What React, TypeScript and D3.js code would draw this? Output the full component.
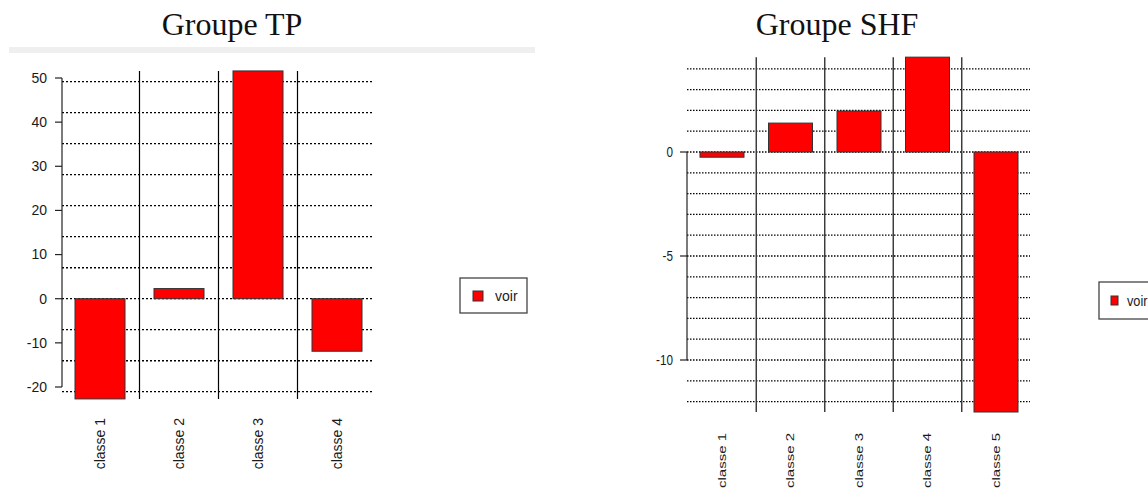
import React from "react";
import * as d3 from "d3";

// ---- data ----
const classesTP = ["classe 1", "classe 2", "classe 3", "classe 4"];
const valuesTP = [-22.7, 2.3, 51.6, -11.9];
const ticksTP = [-20, -10, 0, 10, 20, 30, 40, 50];
const gridTP = [-21.07, -14.05, -7.02, 0, 7.02, 14.05, 21.07, 28.1, 35.12, 42.14, 49.16];

const classesSHF = ["classe 1", "classe 2", "classe 3", "classe 4", "classe 5"];
const valuesSHF = [-0.25, 1.39, 1.97, 4.56, -12.5];
const ticksSHF = [-10, -5, 0];
const gridSHF = [-12, -11, -10, -9, -8, -7, -6, -5, -4, -3, -2, -1, 0, 1, 2, 3, 4];

const legendLabel = "voir";
const titles = ["Groupe TP", "Groupe SHF"];

const SANS = "'Liberation Sans', Arial, sans-serif";
const SERIF = "'Liberation Serif', 'Times New Roman', serif";
const RED = "#ff0000";

export default function App() {
  // ---------- TP chart ----------
  const pTP = 29 / 79;
  const xTP = d3.scaleBand<string>().domain(classesTP).range([60.5, 376.5])
    .paddingInner(pTP).paddingOuter(pTP / 2);
  const yTP = d3.scaleLinear().domain([-20, 50]).range([387, 78]);
  const stepTP = xTP.step();
  const maxTP = d3.max(valuesTP)!;
  const minTP = d3.min(valuesTP)!;

  // ---------- SHF chart ----------
  const pSHF = 24.5 / 68.5;
  const xSHF = d3.scaleBand<string>().domain(classesSHF).range([687.75, 1030.25])
    .paddingInner(pSHF).paddingOuter(pSHF / 2);
  const ySHF = d3.scaleLinear().domain([-10, 0]).range([360, 152]);
  const stepSHF = xSHF.step();
  const maxSHF = d3.max(valuesSHF)!;
  const minSHF = d3.min(valuesSHF)!;
  const SX = 0.78;

  return (
    <svg width={1148} height={488} style={{ position: "absolute", left: 0, top: 0, background: "#fff" }}>
      {/* titles */}
      <text x={232} y={35} textAnchor="middle" fontFamily={SERIF} fontSize={32} fill="#111">{titles[0]}</text>
      <text x={837} y={35} textAnchor="middle" fontFamily={SERIF} fontSize={32} fill="#111">{titles[1]}</text>
      <rect x={9} y={47} width={526} height={6} fill="#efefef" />

      {/* ===== TP ===== */}
      <g>
        {gridTP.map((g, i) => (
          <line key={i} x1={62} x2={372} y1={yTP(g)} y2={yTP(g)} stroke="#000" strokeWidth={1.3} strokeDasharray="2,2" />
        ))}
        {classesTP.slice(1).map((c) => {
          const xx = xTP(c)! - (stepTP - xTP.bandwidth()) / 2;
          return <line key={c} x1={xx} x2={xx} y1={yTP(maxTP)} y2={yTP(minTP)} stroke="#000" strokeWidth={1.2} />;
        })}
        {classesTP.map((c, i) => (
          <rect key={c} x={xTP(c)!} width={xTP.bandwidth()}
            y={yTP(Math.max(0, valuesTP[i]))} height={Math.abs(yTP(valuesTP[i]) - yTP(0))}
            fill={RED} stroke="#333" strokeWidth={1} />
        ))}
        {/* y axis */}
        <line x1={62} x2={62} y1={yTP(d3.max(ticksTP)!)} y2={yTP(d3.min(ticksTP)!)} stroke="#222" strokeWidth={1.2} />
        {ticksTP.map((t) => (
          <g key={t}>
            <line x1={55} x2={62} y1={yTP(t)} y2={yTP(t)} stroke="#222" strokeWidth={1.2} />
            <text x={47} y={yTP(t)} dy="0.35em" textAnchor="end" fontFamily={SANS} fontSize={14} fill="#1a1a1a">{t}</text>
          </g>
        ))}
        {classesTP.map((c) => (
          <text key={c} transform={`translate(${xTP(c)! + xTP.bandwidth() / 2},418) rotate(-90)`}
            dy="0.35em" textAnchor="end" fontFamily={SANS} fontSize={14} fill="#1a1a1a">{c}</text>
        ))}
        {/* legend */}
        <rect x={460} y={278} width={67} height={35} fill="#fff" stroke="#444" strokeWidth={1.3} />
        <rect x={473} y={291} width={10} height={10} fill={RED} stroke="#333" strokeWidth={1} />
        <text x={495} y={296} dy="0.35em" fontFamily={SANS} fontSize={14} fill="#1a1a1a">{legendLabel}</text>
      </g>

      {/* ===== SHF ===== */}
      <g>
        {gridSHF.map((g, i) => (
          <line key={i} x1={687} x2={1030} y1={ySHF(g)} y2={ySHF(g)} stroke="#000" strokeWidth={1.3} strokeDasharray="1.5,1.5" />
        ))}
        {classesSHF.slice(1).map((c) => {
          const xx = xSHF(c)! - (stepSHF - xSHF.bandwidth()) / 2;
          return <line key={c} x1={xx} x2={xx} y1={ySHF(maxSHF)} y2={ySHF(minSHF)} stroke="#333" strokeWidth={1.4} />;
        })}
        {classesSHF.map((c, i) => (
          <rect key={c} x={xSHF(c)!} width={xSHF.bandwidth()}
            y={ySHF(Math.max(0, valuesSHF[i]))} height={Math.abs(ySHF(valuesSHF[i]) - ySHF(0))}
            fill={RED} stroke="#333" strokeWidth={1} />
        ))}
        <line x1={687} x2={687} y1={ySHF(d3.max(ticksSHF)!)} y2={ySHF(d3.min(ticksSHF)!)} stroke="#222" strokeWidth={1.2} />
        {ticksSHF.map((t) => (
          <g key={t}>
            <line x1={680} x2={687} y1={ySHF(t)} y2={ySHF(t)} stroke="#222" strokeWidth={1.2} />
            <text transform={`translate(673,${ySHF(t)}) scale(${SX},1)`} dy="0.35em" textAnchor="end"
              fontFamily={SANS} fontSize={15} fill="#1a1a1a">{t}</text>
          </g>
        ))}
        {classesSHF.map((c) => (
          <text key={c} transform={`translate(${xSHF(c)! + xSHF.bandwidth() / 2},433) scale(0.7,1) rotate(-90)`}
            dy="0.35em" textAnchor="end" fontFamily={SANS} fontSize={15} fill="#1a1a1a">{c}</text>
        ))}
        <rect x={1099} y={282} width={70} height={37} fill="#fff" stroke="#444" strokeWidth={1.3} />
        <rect x={1111} y={296} width={7} height={9} fill={RED} stroke="#333" strokeWidth={1} />
        <text transform={`translate(1127,301) scale(0.85,1)`} dy="0.35em" fontFamily={SANS} fontSize={15} fill="#1a1a1a">{legendLabel}</text>
      </g>
    </svg>
  );
}
